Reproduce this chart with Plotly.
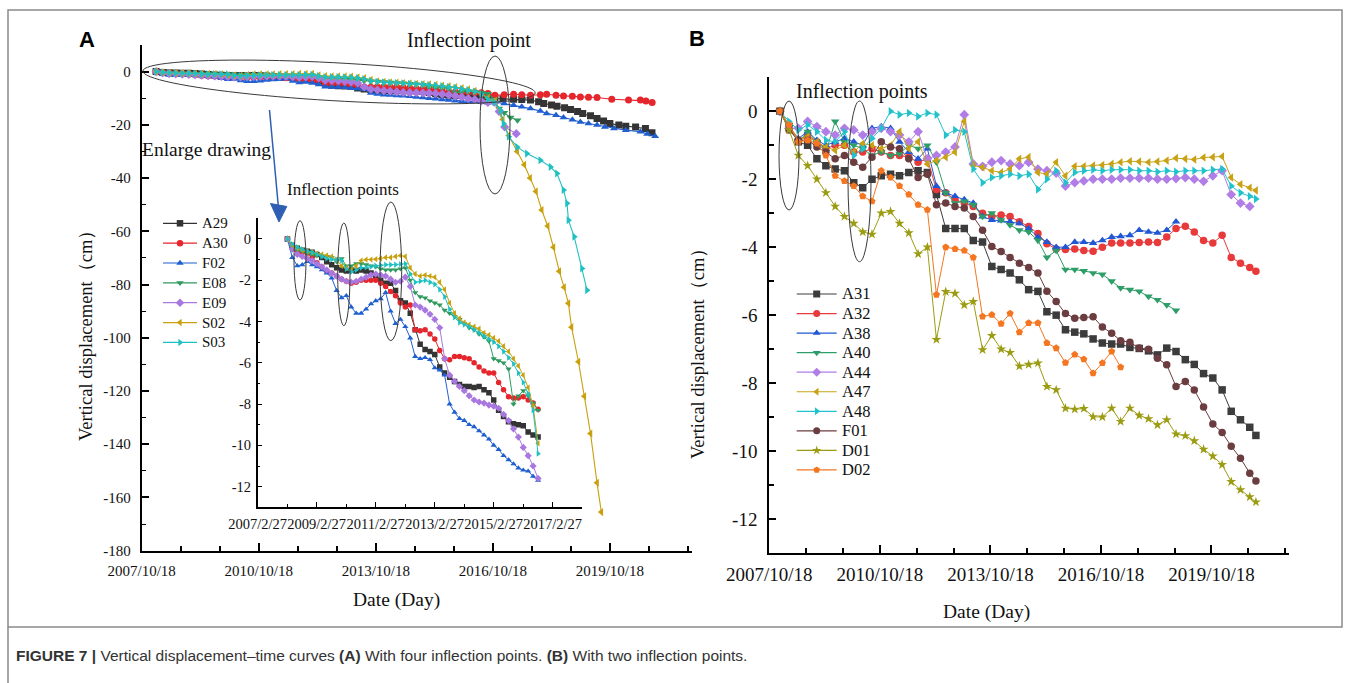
import math
import plotly.graph_objects as go

W, H = 1356, 683
SERIF = "Liberation Serif"
SANS = "Liberation Sans"


def px(x):
    return x / W


def py(y):
    return 1 - y / H


# ---------------- Panel A : common observation dates (inset period) ----------------
A_dates = ["2008-03", "2008-05", "2008-07", "2008-09", "2008-11",
           "2009-01", "2009-03", "2009-05", "2009-07", "2009-09", "2009-11",
           "2010-01", "2010-03", "2010-05", "2010-07", "2010-09", "2010-11",
           "2011-01", "2011-03", "2011-05", "2011-07", "2011-09", "2011-11",
           "2012-01", "2012-03", "2012-05", "2012-07", "2012-09", "2012-11",
           "2013-01", "2013-03", "2013-05", "2013-07", "2013-09", "2013-11",
           "2014-01", "2014-03", "2014-05", "2014-07", "2014-09", "2014-11",
           "2015-01", "2015-03", "2015-05", "2015-07", "2015-09", "2015-11",
           "2016-01", "2016-03", "2016-05", "2016-07", "2016-09"]

A29 = [0, -0.3, -0.45, -0.55, -0.6, -0.65, -0.75, -0.9, -1.1, -1.25, -1.4, -1.5, -1.55, -1.5, -1.55, -1.5,
       -1.55, -1.65, -1.8, -2.0, -2.15, -2.15, -2.5, -3.0, -3.1, -3.6, -4.4, -5.1, -5.35, -5.45, -5.6, -6.2,
       -6.5, -6.7, -6.9, -7.05, -7.15, -7.15, -7.2, -7.15, -7.3, -7.45, -7.8, -8.3, -8.6, -8.85, -8.95, -9.0,
       -9.05, -9.35, -9.5, -9.6]
A30 = [0, -0.35, -0.55, -0.65, -0.7, -0.9, -1.15, -1.35, -1.55, -1.65, -1.8, -1.95, -2.05, -2.15, -2.1, -2.0,
       -2.0, -2.0, -2.0, -2.15, -2.3, -2.55, -2.75, -3.1, -3.3, -3.2, -4.4, -4.45, -4.4, -4.6, -4.85, -5.4,
       -5.8, -5.85, -5.7, -5.7, -5.75, -5.8, -6.0, -6.2, -6.4, -6.5, -6.5, -6.95, -7.3, -7.65, -7.7, -7.7,
       -7.65, -7.8, -7.95, -8.25]
F02 = [0, -0.9, -1.3, -1.25, -1.1, -1.25, -1.35, -1.5, -1.65, -1.9, -2.5, -2.85, -2.75, -3.3, -3.6, -3.6,
       -3.4, -3.15, -3.0, -2.9, -2.6, -3.5, -4.1, -3.9, -4.25, -4.8, -5.7, -5.8, -5.75, -5.85, -6.25, -6.35,
       -6.6, -8.0, -8.4, -8.7, -8.8, -9.0, -9.1, -9.3, -9.5, -9.7, -10.0, -10.2, -10.5, -10.7, -10.9, -11.1,
       -11.2, -11.25, -11.5, -11.7]
E08 = [0, -0.4, -0.55, -0.6, -0.7, -0.75, -0.8, -0.85, -0.85, -0.9, -1.1, -0.95, -1.3, -1.3, -1.2, -1.2,
       -1.25, -1.3, -1.35, -1.45, -1.5, -1.5, -1.5, -1.45, -1.4, -2.0, -2.6, -2.8, -2.85, -3.0, -3.1, -3.2,
       -3.45, -3.6, -3.75, -3.9, -4.1, -4.3, -4.4, -4.6, -4.75, -4.95, -5.8, -5.9, -6.0, -6.3, -8.0, -7.6,
       -7.35, -7.6, -7.95, -8.3]
E09 = [0, -0.5, -0.75, -0.85, -0.95, -1.05, -1.2, -1.35, -1.5, -1.65, -1.8, -1.95, -2.05, -2.1, -2.05, -1.95,
       -1.85, -1.75, -1.7, -1.75, -1.8, -1.95, -2.1, -2.05, -1.85, -2.3, -3.2, -3.3, -3.45, -3.65, -3.9, -4.3,
       -5.8, -6.6, -6.9, -7.15, -7.35, -7.6, -7.8, -7.9, -7.95, -8.05, -8.1, -8.2, -8.5, -8.8, -9.2, -9.6,
       -10.1, -10.5, -11.0, -11.6]
S02 = [0, -0.3, -0.45, -0.55, -0.6, -0.65, -0.7, -0.75, -0.8, -0.85, -1.0, -1.3, -1.4, -1.5, -1.3, -1.05,
       -1.0, -1.0, -0.98, -0.95, -0.9, -0.9, -0.85, -0.8, -0.85, -1.4, -1.7, -1.8, -1.75, -1.8, -1.85, -2.1,
       -2.45, -3.1, -3.6, -3.85, -4.05, -4.15, -4.25, -4.35, -4.55, -4.65, -4.8, -4.95, -5.2, -5.45, -5.8,
       -6.15, -6.6, -7.2, -8.1, -9.9]
S03 = [0, -0.25, -0.4, -0.5, -0.6, -0.65, -0.75, -0.85, -0.95, -1.0, -1.0, -1.05, -1.45, -1.6, -1.5, -1.4,
       -1.38, -1.35, -1.3, -1.27, -1.25, -1.25, -1.25, -1.22, -1.2, -1.7, -2.1, -2.05, -2.0, -2.1, -2.2, -2.45,
       -2.8, -3.4, -3.8, -4.05, -4.15, -4.25, -4.4, -4.55, -4.7, -4.85, -5.0, -5.2, -5.45, -5.75, -6.05, -6.5,
       -6.95, -7.5, -8.3, -10.4]

# ---------------- Panel A : observations after the inflection point ----------------
A29_ext_dates = ["2016-11-06", "2017-01-20", "2017-04-30", "2017-07-15", "2017-10-05", "2017-12-20",
                 "2018-02-06", "2018-04-20", "2018-06-10", "2018-08-20", "2018-10-15", "2018-12-20",
                 "2019-02-06", "2019-04-20", "2019-06-20", "2019-08-20", "2019-10-18", "2020-01-10",
                 "2020-03-15", "2020-06-15", "2020-09-15", "2020-11-15"]
A29_ext = [-10.1, -10.2, -10.4, -10.5, -10.7, -11.3, -12.0, -12.5, -13.0, -13.6, -14.2, -15.0, -15.7, -16.6,
           -17.6, -18.6, -19.5, -20.1, -20.5, -20.8, -21.4, -23.0]
A30_ext_dates = ["2016-11-06", "2017-02-01", "2017-04-30", "2017-07-15", "2017-10-05", "2018-01-05",
                 "2018-03-05", "2018-06-01", "2018-08-10", "2018-11-01", "2019-01-15", "2019-04-01",
                 "2019-06-20", "2019-11-05", "2020-04-10", "2020-07-30", "2020-09-20", "2020-11-17"]
A30_ext = [-8.9, -8.7, -8.5, -8.7, -8.9, -8.7, -8.5, -8.9, -9.2, -9.3, -9.5, -9.6, -9.7, -10.4, -10.7, -10.7,
           -11.0, -11.6]
F02_ext_dates = ["2016-11-06", "2017-02-01", "2017-04-30", "2017-07-15", "2017-10-05", "2018-01-05",
                 "2018-03-05", "2018-06-01", "2018-08-10", "2018-11-01", "2019-01-15", "2019-04-01",
                 "2019-06-20", "2019-09-01", "2019-11-25", "2020-03-15", "2020-07-30", "2020-10-01",
                 "2020-12-15"]
F02_ext = [-11.4, -12.0, -12.6, -13.2, -13.9, -14.8, -15.7, -16.4, -17.2, -18.1, -18.9, -19.5, -20.1, -20.8,
           -21.4, -22.0, -22.6, -23.4, -24.3]
E08_ext_dates = ["2016-11-01", "2016-12-15", "2017-02-01", "2017-04-01", "2017-06-05"]
E08_ext = [-10.5, -13.9, -15.5, -17.2, -18.3]
E09_ext_dates = ["2016-11-01", "2016-12-15", "2017-02-05", "2017-05-25"]
E09_ext = [-11.5, -15.0, -20.8, -23.3]
S02_ext_dates = ["2016-11-06", "2017-01-18", "2017-03-15", "2017-06-02", "2017-08-08", "2017-10-01",
                 "2017-11-25", "2018-01-18", "2018-03-15", "2018-05-08", "2018-07-01", "2018-08-15",
                 "2018-09-25", "2018-10-24", "2018-12-28", "2019-02-21", "2019-04-20", "2019-06-20",
                 "2019-07-30"]
S02_ext = [-11, -18, -24, -30, -35, -40, -45, -52, -58, -66, -75, -81, -87, -96, -109, -122, -136, -154.5,
           -165.5]
S03_ext_dates = ["2016-11-01", "2016-12-28", "2017-01-25", "2017-03-15", "2017-06-02", "2017-09-01",
                 "2018-01-05", "2018-04-10", "2018-06-10", "2018-08-10", "2018-09-12", "2018-09-25",
                 "2018-11-18", "2019-01-30", "2019-03-18"]
S03_ext = [-11.5, -14.5, -19.5, -24.5, -28.3, -30.8, -33.3, -35.8, -38.3, -44.5, -49.5, -55.8, -62.0, -74.0,
           -82.1]

A_names = ["A29", "A30", "F02", "E08", "E09", "S02", "S03"]
A_values = [A29, A30, F02, E08, E09, S02, S03]
A_ext_dates = [A29_ext_dates, A30_ext_dates, F02_ext_dates, E08_ext_dates, E09_ext_dates, S02_ext_dates,
               S03_ext_dates]
A_ext_values = [A29_ext, A30_ext, F02_ext, E08_ext, E09_ext, S02_ext, S03_ext]
A_colors = ["#343434", "#e5272d", "#1f5fd0", "#2f9a5e", "#a878e0", "#c9a00e", "#1fc0c2"]
A_symbols = ["square", "circle", "triangle-up", "triangle-down", "diamond", "triangle-left", "triangle-right"]

# ---------------- Panel B ----------------
B_dates = ["2008-02", "2008-05", "2008-08", "2008-11", "2009-02", "2009-05", "2009-08", "2009-11",
           "2010-02", "2010-05", "2010-08", "2010-11", "2011-02", "2011-05", "2011-08", "2011-11",
           "2012-02", "2012-05", "2012-08", "2012-11", "2013-02", "2013-05", "2013-08", "2013-11",
           "2014-02", "2014-05", "2014-08", "2014-11", "2015-02", "2015-05", "2015-08", "2015-11",
           "2016-02", "2016-05", "2016-08", "2016-11", "2017-02", "2017-05", "2017-08", "2017-11",
           "2018-02", "2018-05", "2018-08", "2018-11", "2019-02", "2019-05", "2019-08", "2019-11",
           "2020-02", "2020-05", "2020-08", "2020-11", "2021-01"]

A31 = [0, -0.45, -0.9, -1.0, -1.4, -1.6, -1.7, -1.75, -2.1, -2.25, -2.0, -1.9, -1.85, -1.9, -1.8, -1.75,
       -1.8, -2.45, -3.45, -3.45, -3.45, -3.8, -3.85, -4.57, -4.66, -4.76, -4.96, -5.25, -5.3, -5.9, -6.0,
       -6.43, -6.5, -6.55, -6.7, -6.82, -6.85, -6.85, -6.95, -6.98, -7.05, -7.17, -6.97, -7.07, -7.31, -7.45,
       -7.72, -7.85, -8.2, -8.83, -9.08, -9.3, -9.54]
A32 = [0, -0.5, -0.85, -0.7, -0.9, -1.1, -1.0, -1.0, -1.2, -1.2, -1.1, -1.2, -1.3, -1.3, -1.35, -1.5, -1.4,
       -2.3, -2.4, -2.6, -2.7, -2.8, -3.0, -3.1, -3.05, -3.1, -3.25, -3.39, -3.6, -3.9, -4.05, -4.07, -4.05,
       -4.1, -4.12, -4.0, -3.88, -3.88, -3.88, -3.86, -3.85, -3.86, -3.7, -3.45, -3.38, -3.55, -3.8, -3.88,
       -3.65, -4.3, -4.47, -4.6, -4.71]
A38 = [0, -0.45, -0.8, -0.6, -0.85, -1.0, -0.9, -0.8, -0.9, -1.0, -0.5, -0.45, -0.5, -0.9, -1.2, -1.4, -1.1,
       -2.2, -2.4, -2.5, -2.6, -2.7, -3.1, -3.2, -3.22, -3.25, -3.3, -3.45, -3.7, -3.85, -4.0, -4.0, -3.85,
       -3.85, -3.88, -3.8, -3.7, -3.68, -3.65, -3.5, -3.55, -3.58, -3.5, -3.25,
       None, None, None, None, None, None, None, None, None]
A40 = [0, -0.5, -0.9, -0.6, -0.9, -1.2, -0.3, -0.9, -1.0, -1.1, -1.3, -1.2, -1.3, -1.25, -1.0, -1.1, -1.0,
       -1.5, -2.4, -2.7, -2.65, -2.75, -3.1, -3.0, -3.2, -3.35, -3.5, -3.55, -3.8, -4.3, -4.1, -4.66, -4.66,
       -4.7, -4.76, -4.8, -5.0, -5.2, -5.25, -5.3, -5.45, -5.55, -5.7, -5.86,
       None, None, None, None, None, None, None, None, None]
A44 = [0, -0.5, -0.5, -0.3, -0.45, -0.6, -0.7, -0.5, -0.55, -0.7, -0.6, -0.5, -0.6, -0.7, -0.9, -0.6, -1.4,
       -1.3, -1.2, -1.05, -0.1, -1.55, -1.62, -1.5, -1.45, -1.55, -1.6, -1.5, -1.7, -1.75, -1.82, -2.2, -2.1,
       -2.05, -2.0, -2.0, -2.0, -1.97, -1.97, -1.97, -1.97, -2.0, -2.0, -1.98, -1.95, -2.0, -2.06, -1.9,
       -1.75, -2.45, -2.7, -2.8, None]
A47 = [0, -0.4, -0.85, -0.75, -0.9, -1.05, -1.15, -1.0, -1.2, -0.95, -1.0, -1.1, -1.0, -0.6, -1.1, -0.9,
       -1.55, -1.45, -1.35, -1.2, -0.3, -1.6, -1.65, -1.75, -1.8, -1.7, -1.4, -1.35, -1.8, -1.85, -1.5, -1.9,
       -1.62, -1.62, -1.6, -1.58, -1.55, -1.5, -1.47, -1.48, -1.5, -1.48, -1.45, -1.38, -1.4, -1.42, -1.36,
       -1.35, -1.33, -1.95, -2.15, -2.25, -2.33]
A48 = [0, -0.3, -0.55, -0.4, -0.6, -0.85, -0.9, -0.6, -1.3, -1.1, -0.8, -0.5, 0.0, -0.1, -0.05, -0.15, -0.05,
       -0.1, -0.7, -0.55, -0.6, -1.7, -2.1, -1.95, -1.9, -1.85, -1.9, -1.85, -2.3, -2.0, -1.75, -2.1, -1.8,
       -1.75, -1.72, -1.75, -1.72, -1.72, -1.72, -1.75, -1.75, -1.78, -1.75, -1.78, -1.75, -1.75, -1.75,
       -1.72, -1.7, -2.2, -2.4, -2.5, -2.58]
F01 = [0, -0.55, -0.85, -0.85, -1.05, -1.2, -1.4, -1.3, -1.5, -1.65, -1.35, -0.9, -1.05, -1.1, -1.4, -1.95,
       -1.85, -2.75, -2.7, -2.8, -2.85, -3.1, -3.5, -3.98, -4.13, -4.3, -4.47, -4.6, -4.76, -5.3, -5.6, -5.95,
       -6.09, -6.07, -6.05, -6.35, -6.53, -6.75, -6.8, -6.97, -7.0, -7.27, -7.46, -8.1, -7.95, -8.2, -8.7,
       -9.2, -9.45, -9.86, -10.21, -10.65, -10.88]
D01 = [0, -0.55, -1.3, -1.6, -2.0, -2.4, -2.8, -3.1, -3.3, -3.55, -3.62, -3.0, -2.95, -3.3, -3.58, -4.2,
       -4.0, -6.72, -5.31, -5.36, -5.7, -5.6, -7.02, -6.6, -7.0, -7.1, -7.5, -7.45, -7.41, -8.1, -8.2, -8.74,
       -8.77, -8.75, -8.99, -9.0, -8.74, -9.13, -8.74, -8.95, -9.05, -9.23, -9.08, -9.5, -9.55, -9.7, -9.95,
       -10.15, -10.4, -10.9, -11.14, -11.35, -11.5]
D02 = [0, -0.4, -0.9, -0.85, -0.95, -1.3, -1.9, -2.05, -2.2, -2.5, -2.65, -1.75, -1.95, -2.2, -2.45, -2.75,
       -2.9, -5.4, -4.0, -4.05, -4.1, -4.3, -6.04, -5.99, -6.25, -5.95, -6.5, -6.23, -6.23, -6.82, -6.97,
       -7.4, -7.16, -7.3, -7.71, -7.41, -7.07, -7.53,
       None, None, None, None, None, None, None, None, None, None, None, None, None, None, None]

B_names = ["A31", "A32", "A38", "A40", "A44", "A47", "A48", "F01", "D01", "D02"]
B_values = [A31, A32, A38, A40, A44, A47, A48, F01, D01, D02]
B_colors = ["#3c3c3c", "#e8393b", "#2157d3", "#2e9e68", "#b07ee6", "#c8a214", "#22c2cc", "#6b3c40",
            "#9c9c12", "#f57621"]
B_symbols = ["square", "circle", "triangle-up", "triangle-down", "diamond", "triangle-left", "triangle-right",
             "circle", "star", "pentagon"]

# ---------------- tick labels ----------------
main_tickvals = ["2007-10-18", "2010-10-18", "2013-10-18", "2016-10-18", "2019-10-18"]
main_ticktext = ["2007/10/18", "2010/10/18", "2013/10/18", "2016/10/18", "2019/10/18"]
main_minor = ["2008-10-18", "2009-10-18", "2011-10-18", "2012-10-18", "2014-10-18", "2015-10-18",
              "2017-10-18", "2018-10-18", "2020-10-18", "2021-10-18"]
inset_tickvals = ["2007-02-27", "2009-02-27", "2011-02-27", "2013-02-27", "2015-02-27", "2017-02-27"]
inset_ticktext = ["2007/2/27", "2009/2/27", "2011/2/27", "2013/2/27", "2015/2/27", "2017/2/27"]
inset_minor = ["2008-02-27", "2010-02-27", "2012-02-27", "2014-02-27", "2016-02-27"]
Ay_vals = [0, -20, -40, -60, -80, -100, -120, -140, -160, -180]
Ay_text = ["0", "-20", "-40", "-60", "-80", "-100", "-120", "-140", "-160", "-180"]
Ay_minor = [-10, -30, -50, -70, -90, -110, -130, -150, -170]
small_y_vals = [0, -2, -4, -6, -8, -10, -12]
small_y_text = ["0", "-2", "-4", "-6", "-8", "-10", "-12"]
small_y_minor = [-1, -3, -5, -7, -9, -11]

fig = go.Figure()

# main panel A
for name, vals, ed, ev, c, s in zip(A_names, A_values, A_ext_dates, A_ext_values, A_colors, A_symbols):
    fig.add_trace(go.Scatter(x=A_dates + ed, y=vals + ev, name=name, xaxis="x", yaxis="y",
                             mode="lines+markers", line=dict(color=c, width=1.1),
                             marker=dict(symbol=s, size=7, color=c, line=dict(width=0))))
# inset of panel A
for name, vals, c, s in zip(A_names, A_values, A_colors, A_symbols):
    fig.add_trace(go.Scatter(x=A_dates, y=vals, name=name, xaxis="x2", yaxis="y2",
                             mode="lines+markers", line=dict(color=c, width=1),
                             marker=dict(symbol=s, size=5.5, color=c, line=dict(width=0))))
# panel B
for name, vals, c, s in zip(B_names, B_values, B_colors, B_symbols):
    fig.add_trace(go.Scatter(x=B_dates, y=vals, name=name, xaxis="x3", yaxis="y3",
                             mode="lines+markers", line=dict(color=c, width=1),
                             marker=dict(symbol=s, size=7.5, color=c, line=dict(width=0))))

annotations = []


def legend_block(names, colors, symbols, x0, x1, ytop, step, fsize, msize):
    for i, (n, c, s) in enumerate(zip(names, colors, symbols)):
        yy = ytop + step * i
        fig.add_trace(go.Scatter(x=[x0, x1], y=[yy, yy], xaxis="x4", yaxis="y4", mode="lines",
                                 line=dict(color=c, width=1.2), hoverinfo="skip"))
        fig.add_trace(go.Scatter(x=[(x0 + x1) / 2], y=[yy], xaxis="x4", yaxis="y4", mode="markers",
                                 marker=dict(symbol=s, size=msize, color=c, line=dict(width=0)),
                                 hoverinfo="skip"))
        annotations.append(dict(text=n, x=px(x1 + 3), y=py(yy), xref="paper", yref="paper",
                                xanchor="left", yanchor="middle", showarrow=False,
                                font=dict(family=SERIF, size=fsize, color="#111")))


legend_block(A_names, A_colors, A_symbols, 163, 197, 223.3, 19.85, 15, 6.5)
legend_block(B_names, B_colors, B_symbols, 796.7, 836.7, 294, 19.55, 16.5, 7)


def text(t, x, y, size, family=SERIF, angle=0, anchor="center", color="#111"):
    annotations.append(dict(text=t, x=px(x), y=py(y), xref="paper", yref="paper", xanchor=anchor,
                            yanchor="middle", showarrow=False, textangle=angle,
                            font=dict(family=family, size=size, color=color)))


text("<b>A</b>", 86.5, 39.5, 22, SANS, color="#000")
text("<b>B</b>", 697, 38.5, 22, SANS, color="#000")
text("Inflection point", 469, 40, 20)
text("Enlarge drawing", 206, 150, 19.5)
text("Inflection points", 342.5, 190, 17)
text("Inflection points", 862, 91.7, 20)
text("Date (Day)", 396.7, 600, 19.5)
text("Date (Day)", 986.8, 611.7, 19.5)
text("Vertical displacement（cm）", 86, 331, 18.5, angle=-90)
text("Vertical displacement（cm）", 698, 349, 18.5, angle=-90)
text("<b>FIGURE 7 |</b> Vertical displacement–time curves <b>(A)</b> With four inflection points. "
     "<b>(B)</b> With two inflection points.", 14, 655, 15.5, SANS, anchor="left", color="#333")


def ellipse_path(cx, cy, a, b, ang_deg, n=90):
    t = math.radians(ang_deg)
    pts = []
    for i in range(n):
        th = 2 * math.pi * i / n
        x = cx + a * math.cos(th) * math.cos(t) - b * math.sin(th) * math.sin(t)
        y = cy + a * math.cos(th) * math.sin(t) + b * math.sin(th) * math.cos(t)
        pts.append(f"{px(x):.5f},{py(y):.5f}")
    return "M " + " L ".join(pts) + " Z"


ell_line = dict(color="#3a3a3a", width=1)
shapes = []
shapes.append(dict(type="path", path=ellipse_path(339, 82, 196.5, 19, 3.2), xref="paper", yref="paper",
                   line=ell_line))
for (x0, x1, y0, y1) in [(480, 510, 56, 194), (294, 306, 220.7, 300), (337.7, 350, 223, 325.7),
                         (380, 401.7, 202, 340.7), (779, 799, 101, 210), (848, 871, 101, 261.7)]:
    shapes.append(dict(type="circle", xref="paper", yref="paper", x0=px(x0), x1=px(x1), y0=py(y1),
                       y1=py(y0), line=ell_line))
shapes.append(dict(type="line", xref="paper", yref="paper", x0=px(269.5), y0=py(110), x1=px(278.3),
                   y1=py(206), line=dict(color="#2f5fb3", width=1.5)))
shapes.append(dict(type="path", xref="paper", yref="paper",
                   path=f"M {px(270.5)},{py(203.5)} L {px(286.8)},{py(206.5)} L {px(279)},{py(222)} Z",
                   fillcolor="#2f5fb3", line=dict(color="#2f5fb3", width=1)))
shapes.append(dict(type="rect", xref="paper", yref="paper", x0=px(8), x1=px(1342), y0=py(627), y1=py(10),
                   line=dict(color="#8a8a8a", width=1.5)))
shapes.append(dict(type="line", xref="paper", yref="paper", x0=px(8), x1=px(8), y0=py(627), y1=py(683),
                   line=dict(color="#8a8a8a", width=1.5)))


def xax(domain, rng, tv, tt, minor, fsize, lw, tl, standoff, anchor):
    return dict(domain=domain, range=rng, type="date", anchor=anchor, showline=True, linecolor="#000",
                linewidth=lw, ticks="inside", ticklen=tl, tickwidth=lw * 0.8, tickcolor="#000",
                tickmode="array", tickvals=tv, ticktext=tt, showgrid=False, zeroline=False,
                automargin=False, tickangle=0,
                tickfont=dict(family=SERIF, size=fsize, color="#111"), ticklabelstandoff=standoff,
                minor=dict(tickmode="array", tickvals=minor, ticks="inside", ticklen=tl * 0.6,
                           tickwidth=lw * 0.7, tickcolor="#000", showgrid=False))


def yax(domain, rng, tv, tt, minor, fsize, lw, tl, standoff, anchor):
    return dict(domain=domain, range=rng, anchor=anchor, showline=True, linecolor="#000", linewidth=lw,
                ticks="inside", ticklen=tl, tickwidth=lw * 0.8, tickcolor="#000", tickmode="array",
                tickvals=tv, ticktext=tt, showgrid=False, zeroline=False, automargin=False,
                tickfont=dict(family=SERIF, size=fsize, color="#111"), ticklabelstandoff=standoff,
                minor=dict(tickmode="array", tickvals=minor, ticks="inside", ticklen=tl * 0.6,
                           tickwidth=lw * 0.7, tickcolor="#000", showgrid=False))


fig.update_layout(
    template="none",
    width=W, height=H, margin=dict(l=0, r=0, t=0, b=0, pad=0, autoexpand=False), showlegend=False,
    paper_bgcolor="white", plot_bgcolor="rgba(0,0,0,0)",
    xaxis=xax([px(141.7), px(692)], ["2007-10-18", "2021-11-25"], main_tickvals, main_ticktext, main_minor,
              15, 2.4, 8, 5, "y"),
    yaxis=yax([py(550.7), py(45)], [-180, 10], Ay_vals, Ay_text, Ay_minor, 15, 2, 7, 6, "x"),
    xaxis2=xax([px(257.7), px(582)], ["2007-02-27", "2018-02-27"], inset_tickvals, inset_ticktext,
               inset_minor, 14.5, 1.5, 6, 3, "y2"),
    yaxis2=yax([py(507.3), py(218.3)], [-13, 1], small_y_vals, small_y_text, small_y_minor, 14.5, 1.5, 5, 2,
               "x2"),
    xaxis3=xax([px(769.3), px(1289)], ["2007-10-18", "2021-11-25"], main_tickvals, main_ticktext, main_minor,
               19, 2.2, 8, 3, "y3"),
    yaxis3=yax([py(553), py(77.3)], [-13, 1], small_y_vals, small_y_text, small_y_minor, 19, 2.2, 7, 6, "x3"),
    xaxis4=dict(domain=[0, 1], range=[0, W], visible=False, fixedrange=True, anchor="y4", automargin=False),
    yaxis4=dict(domain=[0, 1], range=[H, 0], visible=False, fixedrange=True, anchor="x4", automargin=False),
    annotations=annotations, shapes=shapes,
)

fig.write_html("out.html")
